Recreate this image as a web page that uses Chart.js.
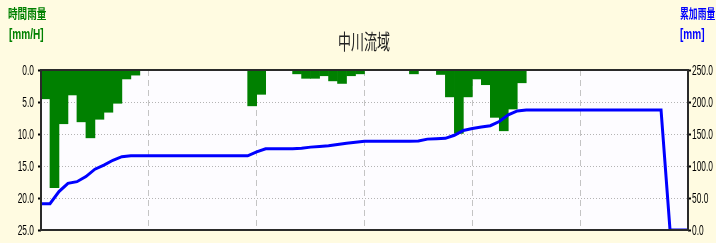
<!DOCTYPE html>
<html>
<head>
<meta charset="utf-8">
<script src="https://cdn.jsdelivr.net/npm/chart.js@4.4.1/dist/chart.umd.min.js"></script>
<style>
    body { margin: 0; background: #fffbe1; }
    #wrap { position: relative; width: 716px; height: 243px; overflow: hidden; }
    canvas { position: absolute; left: 0; top: 0; }
    .lbl { position: absolute; white-space: nowrap; transform-origin: left top; line-height: 1; }
    #title { left: 338px; top: 25px; font: 400 21px 'Noto Sans CJK JP'; color: #222; transform: scaleX(0.62); }
    .green { color: #008000; font-weight: bold; }
    .blue { color: #0000ff; font-weight: bold; }
</style>
</head>
<body>
<div id="wrap">
    <canvas id="rainChart" width="716" height="243"></canvas>
    <div id="title" class="lbl">中川流域</div>
    <div class="lbl green" style="left:8px;top:6px;font-family:'Noto Sans CJK JP';font-size:13px;transform:scaleX(0.74)">時間雨量</div>
    <div class="lbl green" style="left:9px;top:27px;font-family:'Liberation Sans';font-size:14px;transform:scaleX(0.72)">[mm/H]</div>
    <div class="lbl blue" style="left:680px;top:6px;font-family:'Noto Sans CJK JP';font-size:13px;transform:scaleX(0.68)">累加雨量</div>
    <div class="lbl blue" style="left:680px;top:27px;font-family:'Liberation Sans';font-size:14px;transform:scaleX(0.72)">[mm]</div>
</div>
<script>
// hourly rainfall (mm/H), 72 hours
const hourlyRain = [
    4.5, 18.4, 8.4, 3.9, 8.1, 10.6, 7.7, 6.6, 5.2, 1.4, 0.8, 0,
    0, 0, 0, 0, 0, 0, 0, 0, 0, 0, 0, 5.6,
    3.8, 0, 0, 0, 0.6, 1.3, 1.3, 0.9, 1.7, 2.1, 0.9, 0.6,
    0, 0, 0, 0, 0, 0.6, 0, 0, 0.7, 4.2, 9.9, 4.2,
    1.4, 2.3, 7.4, 9.5, 6.1, 2.0, 0, 0, 0, 0, 0, 0,
    0, 0, 0, 0, 0, 0, 0, 0, 0, 0, 0, 0
];
// cumulative rainfall (mm), read at each hour boundary 0..72
const cumulRain = [
    41, 41, 60, 73, 75.5, 83.5, 95, 101.5, 109, 114.5, 116, 116,
    116, 116, 116, 116, 116, 116, 116, 116, 116, 116, 116, 116,
    122, 127, 127, 127, 127, 127.6, 129.5, 130.5, 131.5, 133.5, 135.5, 137,
    138.5, 138.5, 138.5, 138.5, 138.5, 138.5, 139, 142, 142.5, 143.2, 148, 155.5,
    158.5, 161, 163, 169.5, 180, 186, 187.5, 187.5, 187.5, 187.5, 187.5, 187.5,
    187.5, 187.5, 187.5, 187.5, 187.5, 187.5, 187.5, 187.5, 187.5, 187.5, 0, 0,
    0
];
const leftTicks = [0, 5, 10, 15, 20, 25];
const rightTicks = [0, 50, 100, 150, 200, 250];

const plotFrame = {
    id: 'plotFrame',
    beforeDraw(chart) {
        const { ctx, chartArea: a } = chart;
        ctx.save();
        ctx.fillStyle = '#fdfcff';
        ctx.fillRect(a.left, a.top, a.right - a.left, a.bottom - a.top);
        ctx.restore();
    },
    afterDraw(chart) {
        const { ctx, chartArea: a } = chart;
        ctx.save();
        ctx.strokeStyle = '#2a2a2a';
        ctx.lineWidth = 2;
        ctx.strokeRect(a.left, a.top, a.right - a.left, a.bottom - a.top);

        // narrow tick labels, placed by the scales
        ctx.fillStyle = '#000';
        ctx.font = "15px 'Liberation Sans', Arial, sans-serif";
        ctx.textBaseline = 'middle';
        [['y', 'right'], ['y2', 'left']].forEach(([id, align]) => {
            const s = chart.scales[id];
            const x = align === 'right' ? s.right - 7 : s.left + 4;
            s.ticks.forEach(t => {
                const y = s.getPixelForValue(t.value);
                ctx.save();
                ctx.translate(x, y + 1);
                ctx.scale(0.56, 1);
                ctx.textAlign = align;
                ctx.fillText(t.value.toFixed(1), 0, 0);
                ctx.restore();
            });
        });
        ctx.restore();
    }
};

const ctx = document.getElementById('rainChart').getContext('2d');
new Chart(ctx, {
    type: 'bar',
    data: {
        datasets: [{
            type: 'line',
            label: '累加雨量',
            data: cumulRain.map((v, i) => ({ x: i, y: v })),
            yAxisID: 'y2',
            borderColor: '#0000ff',
            borderWidth: 3,
            pointRadius: 0,
            tension: 0,
            order: 0
        }, {
            type: 'bar',
            label: '時間雨量',
            data: hourlyRain.map((v, i) => ({ x: i + 0.5, y: v })),
            yAxisID: 'y',
            backgroundColor: '#008000',
            borderWidth: 0,
            barPercentage: 1,
            categoryPercentage: 1,
            order: 1
        }]
    },
    options: {
        responsive: false,
        animation: false,
        devicePixelRatio: 1,
        layout: { padding: { top: 70, left: 0, right: 0, bottom: 0 } },
        plugins: { legend: { display: false }, tooltip: { enabled: false } },
        scales: {
            x: {
                type: 'linear',
                min: 0,
                max: 72,
                offset: false,
                afterFit: s => { s.height = 13; },
                ticks: { display: false, stepSize: 12 },
                grid: {
                    offset: false,
                    drawTicks: false,
                    color: c => (c.tick && (c.tick.value === 0 || c.tick.value === 72)) ? 'rgba(0,0,0,0)' : '#c4c4c4'
                },
                border: { display: false, dash: [6, 4] }
            },
            y: {
                position: 'left',
                reverse: true,
                min: leftTicks[0],
                max: leftTicks[leftTicks.length - 1],
                afterFit: s => { s.width = 41; },
                afterBuildTicks: s => { s.ticks = leftTicks.map(v => ({ value: v })); },
                ticks: { display: false },
                grid: { color: '#b4b4b4', tickColor: '#000', tickLength: 3, tickWidth: 2, tickBorderDash: [] },
                border: { display: false, dash: [1, 2] }
            },
            y2: {
                position: 'right',
                min: rightTicks[0],
                max: rightTicks[rightTicks.length - 1],
                afterFit: s => { s.width = 28; },
                afterBuildTicks: s => { s.ticks = rightTicks.map(v => ({ value: v })); },
                ticks: { display: false },
                grid: { drawOnChartArea: false, tickColor: '#000', tickLength: 3, tickWidth: 2 },
                border: { display: false }
            }
        }
    },
    plugins: [plotFrame]
});
</script>
</body>
</html>
